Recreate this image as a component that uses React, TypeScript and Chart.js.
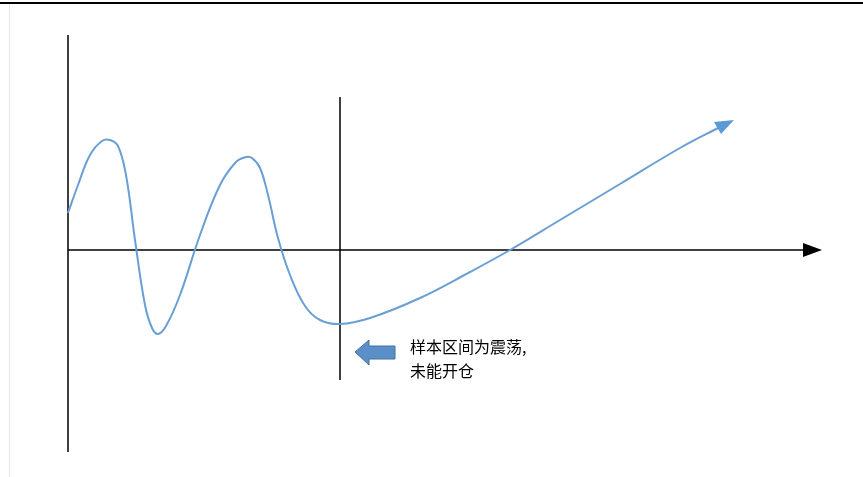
import React, { useEffect, useRef } from "react";
import { Chart, registerables } from "chart.js";
Chart.register(...registerables);

const curveX = [68, 78, 90, 102, 110, 118, 126, 135, 145, 152, 158, 166, 180, 200, 220, 236, 246, 252, 260, 268, 278, 290, 305, 320, 340, 370, 420, 470, 510, 560, 620, 680, 722];
const curveY = [213, 185, 155, 141, 140, 146, 175, 240, 305, 328, 334, 326, 295, 235, 185, 162, 157, 158, 168, 195, 238, 275, 306, 320, 324, 318, 298, 272, 250, 220, 184, 148, 126];
const axisX = [68, 808];
const axisY = [250, 250];
const leftLineX = [68, 68];
const leftLineY = [35, 452];
const midLineX = [340, 340];
const midLineY = [97, 380];
const labelLines = ["样本区间为震荡,", "未能开仓"];

export default function App() {
  const ref = useRef<HTMLCanvasElement>(null);
  useEffect(() => {
    document.body.style.margin = "0";
    const pts = (xs: number[], ys: number[]) => xs.map((x, i) => ({ x, y: ys[i] }));
    const deco = {
      id: "deco",
      afterDatasetsDraw(c: any) {
        const ctx = c.ctx, sx = c.scales.x, sy = c.scales.y;
        const X = (v: number) => sx.getPixelForValue(v), Y = (v: number) => sy.getPixelForValue(v);
        ctx.save();
        ctx.fillStyle = "#000";
        ctx.fillRect(0, 2, c.width, 2);
        ctx.fillStyle = "#e6e6e6";
        ctx.fillRect(9, 4, 1, c.height - 4);
        ctx.fillStyle = "#000";
        ctx.beginPath();
        ctx.moveTo(X(822), Y(250));
        ctx.lineTo(X(803), Y(243));
        ctx.lineTo(X(803), Y(257));
        ctx.closePath();
        ctx.fill();
        ctx.fillStyle = "#5b9bd5";
        ctx.beginPath();
        ctx.moveTo(X(734), Y(120));
        ctx.lineTo(X(714), Y(122));
        ctx.lineTo(X(721), Y(134));
        ctx.closePath();
        ctx.fill();
        ctx.fillStyle = "#5b8fc9";
        ctx.strokeStyle = "#41719c";
        ctx.lineWidth = 1;
        ctx.beginPath();
        ctx.moveTo(X(355), Y(352));
        ctx.lineTo(X(369), Y(340));
        ctx.lineTo(X(369), Y(346));
        ctx.lineTo(X(395), Y(346));
        ctx.lineTo(X(395), Y(359));
        ctx.lineTo(X(369), Y(359));
        ctx.lineTo(X(369), Y(365));
        ctx.closePath();
        ctx.fill();
        ctx.stroke();
        ctx.fillStyle = "#000";
        ctx.font = "16px 'Noto Sans CJK SC'";
        ctx.textBaseline = "middle";
        labelLines.forEach((t, i) => ctx.fillText(t, X(410), Y(347 + i * 24)));
        ctx.restore();
      },
    };
    const chart = new Chart(ref.current!, {
      type: "scatter",
      data: {
        datasets: [
          { data: pts(curveX, curveY), showLine: true, tension: 0.4, borderColor: "#6a9fd4", borderWidth: 2, pointRadius: 0 },
          { data: pts(axisX, axisY), showLine: true, borderColor: "#000", borderWidth: 1.5, pointRadius: 0 },
          { data: pts(leftLineX, leftLineY), showLine: true, borderColor: "#000", borderWidth: 1.5, pointRadius: 0 },
          { data: pts(midLineX, midLineY), showLine: true, borderColor: "#000", borderWidth: 1.5, pointRadius: 0 },
        ],
      },
      options: {
        animation: false,
        responsive: false,
        layout: { padding: 0 },
        plugins: { legend: { display: false }, tooltip: { enabled: false } },
        scales: {
          x: { type: "linear", min: 0, max: 863, display: false },
          y: { type: "linear", min: 0, max: 477, reverse: true, display: false },
        },
      },
      plugins: [deco],
    });
    return () => chart.destroy();
  }, []);
  return <canvas ref={ref} width={863} height={477} style={{ display: "block" }} />;
}
